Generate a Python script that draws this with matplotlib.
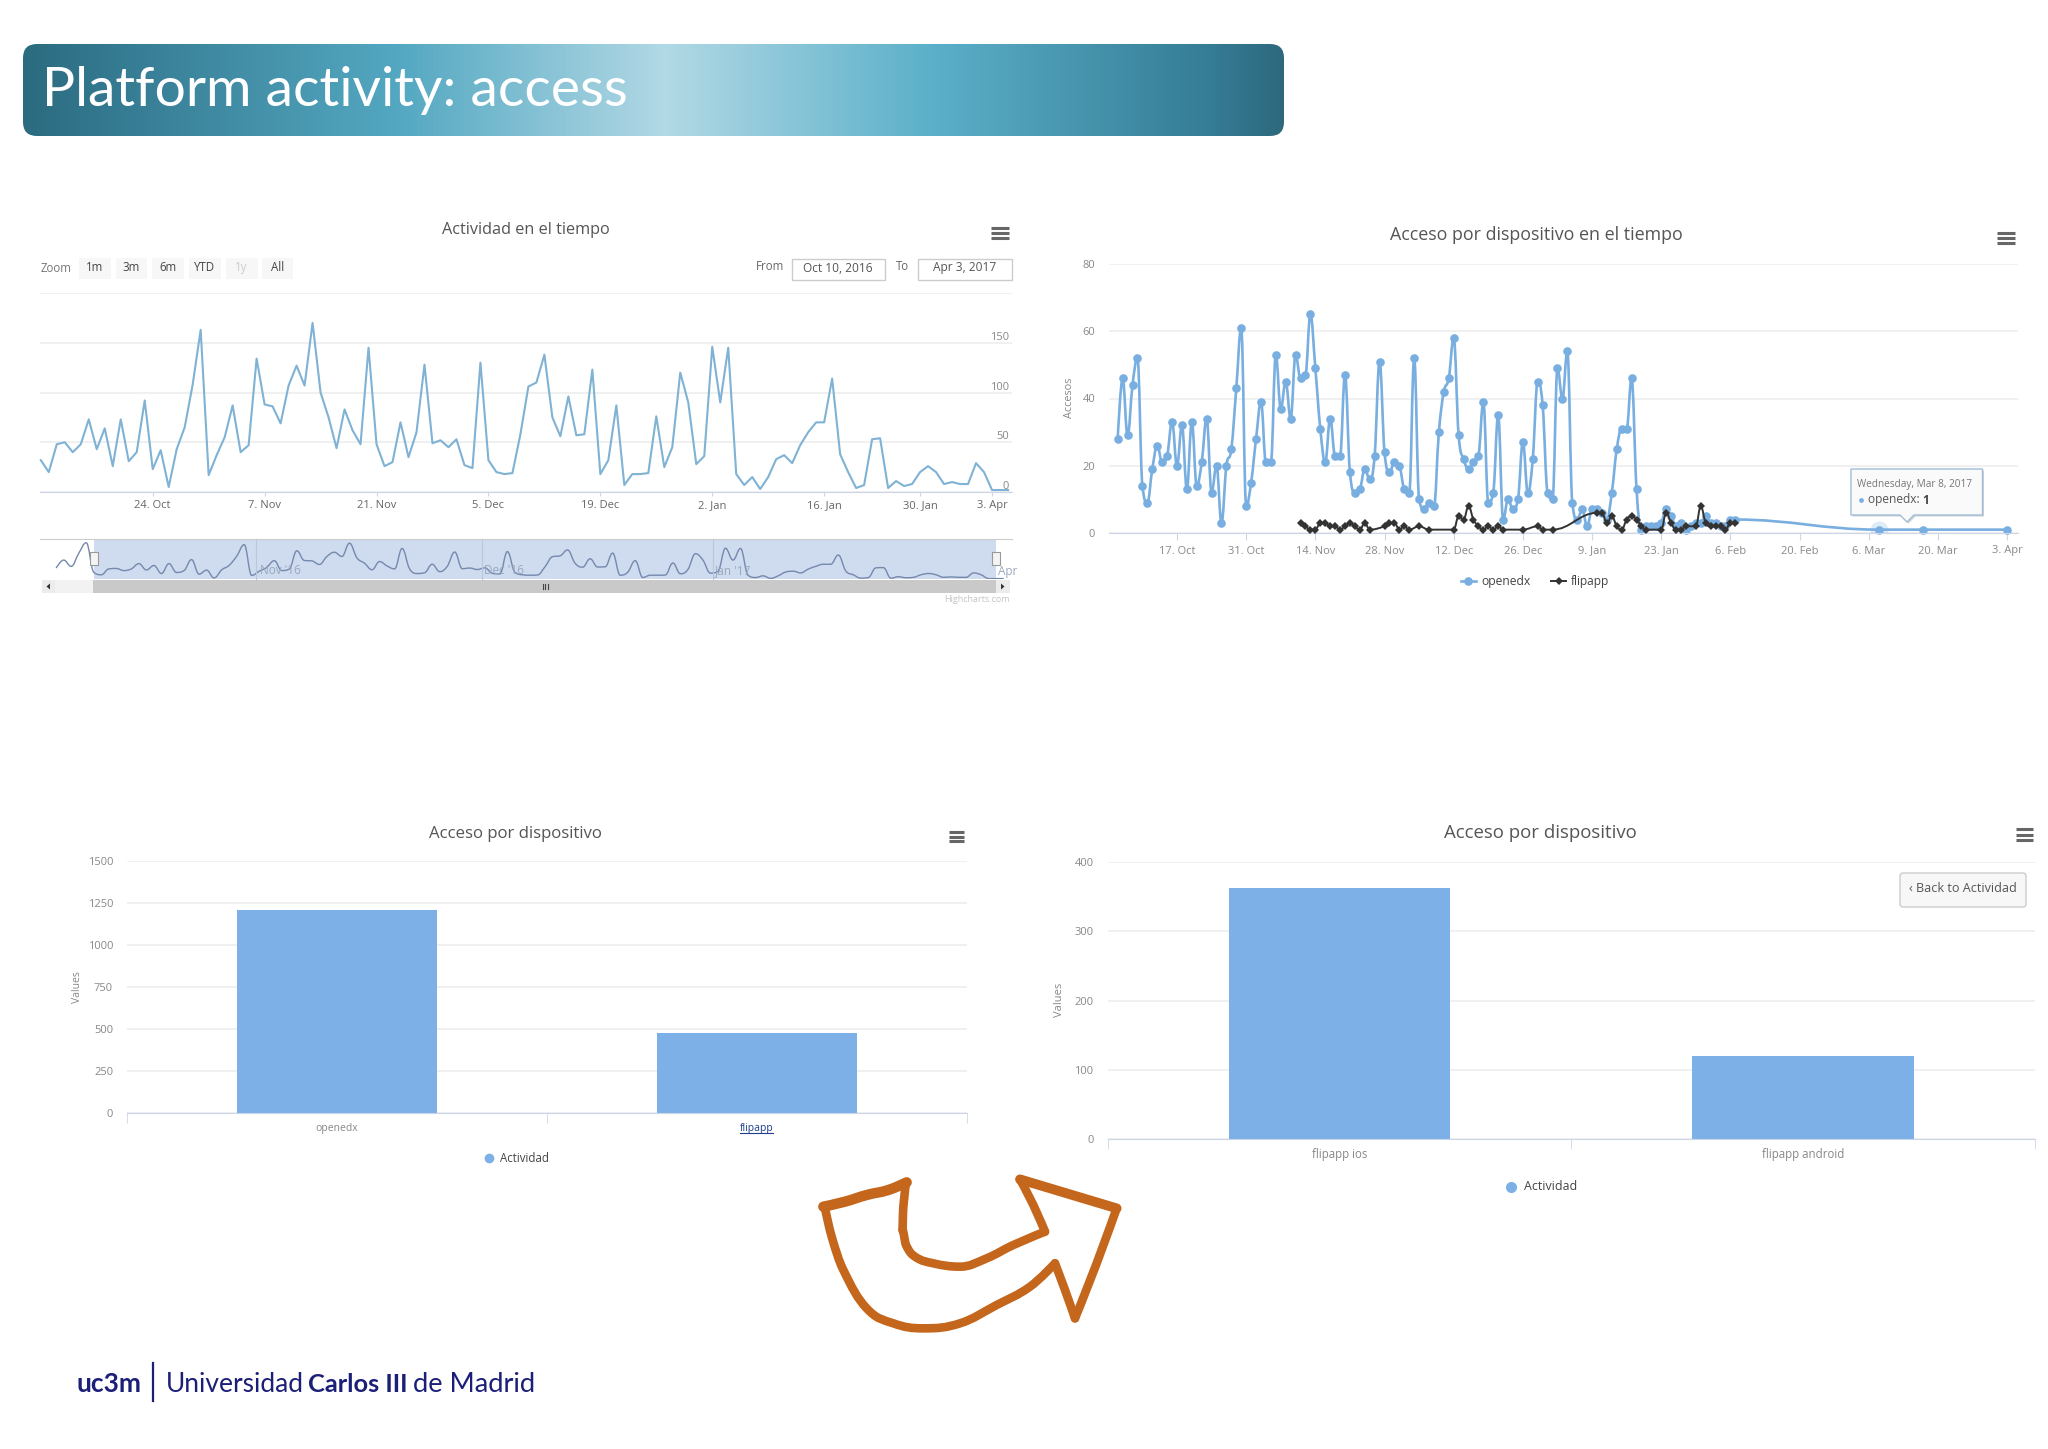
import matplotlib
matplotlib.use("Agg")
import numpy as np
import matplotlib.pyplot as plt
from matplotlib.path import Path
from matplotlib.patches import PathPatch, FancyBboxPatch, Rectangle, Polygon

plt.rcParams["font.family"] = ["Open Sans", "DejaVu Sans"]

W, H = 2048, 1449

# top left chart, one value per day, ordinal axis
activity = [32, 20, 48, 50, 40, 48, 73, 43, 64, 26, 73, 31, 40, 92, 23, 42, 5, 43, 65, 108,
            163, 17, 37, 55, 87, 40, 47, 134, 88, 86, 69, 107, 127, 107, 170, 100, 75, 44, 83, 62,
            48, 145, 48, 26, 30, 70, 35, 60, 128, 49, 52, 45, 53, 27, 24, 130, 32, 20, 18, 19,
            58, 106, 110, 138, 75, 56, 96, 57, 58, 123, 18, 32, 87, 7, 18, 18, 19, 76, 25, 45,
            120, 90, 28, 36, 146, 90, 145, 18, 7, 15, 3, 15, 33, 37, 29, 47, 60, 70, 70, 114,
            38, 20, 4, 7, 53, 54, 4, 11, 6, 8, 20, 26, 20, 8, 10, 8, 8, 29, 20, 2, 2, 2]
activity_ticks = [14, 28, 42, 56, 70, 84, 98, 110, 119]
activity_labels = ["24. Oct", "7. Nov", "21. Nov", "5. Dec", "19. Dec", "2. Jan", "16. Jan", "30. Jan", "3. Apr"]
activity_y = [0, 50, 100, 150, 200]
nav_head = [52, 90, 60, 122, 172]

# top right chart, day number counted from the first point
openedx_days = list(range(126)) + [154, 163, 180]
openedx = [28, 46, 29, 44, 52, 14, 9, 19, 26, 21, 23, 33, 20, 32, 13, 33, 14, 21, 34, 12,
           20, 3, 20, 25, 43, 61, 8, 15, 28, 39, 21, 21, 53, 37, 45, 34, 53, 46, 47, 65,
           49, 31, 21, 34, 23, 23, 47, 18, 12, 13, 19, 16, 23, 51, 24, 18, 21, 20, 13, 12,
           52, 10, 7, 9, 8, 30, 42, 46, 58, 29, 22, 19, 21, 23, 39, 9, 12, 35, 4, 10,
           7, 10, 27, 12, 22, 45, 38, 12, 10, 49, 40, 54, 9, 4, 7, 2, 7, 7, 6, 4,
           12, 25, 31, 31, 46, 13, 1, 2, 2, 2, 3, 7, 5, 2, 3, 1, 2, 3, 3, 5,
           3, 3, 2, 2, 4, 4, 1, 1, 1]
flipapp_days = [37, 38, 39, 40, 41, 42, 43, 44, 45, 46, 47, 48, 49, 50, 51, 54, 55, 56, 57, 58,
                59, 61, 63, 68, 69, 70, 71, 72, 73, 74, 75, 76, 77, 78, 82, 85, 86, 88, 97, 98,
                99, 100, 101, 102, 103, 104, 105, 106, 107, 110, 111, 112, 113, 114, 115, 117, 118, 119, 120, 121,
                122, 123, 124, 125]
flipapp = [3, 2, 1, 1, 3, 3, 2, 2, 1, 2, 3, 2, 1, 3, 1, 2, 3, 3, 1, 2,
           1, 2, 1, 1, 5, 4, 8, 4, 2, 1, 2, 1, 2, 1, 1, 2, 1, 1, 6, 6,
           3, 5, 2, 1, 4, 5, 4, 2, 1, 1, 6, 3, 1, 1, 2, 2, 8, 3, 2, 2,
           2, 1, 3, 3]
device_ticks = [12, 26, 40, 54, 68, 82, 96, 110, 124, 138, 152, 166, 180]
device_labels = ["17. Oct", "31. Oct", "14. Nov", "28. Nov", "12. Dec", "26. Dec", "9. Jan", "23. Jan",
                 "6. Feb", "20. Feb", "6. Mar", "20. Mar", "3. Apr"]
device_y = [0, 20, 40, 60, 80]

# bottom charts
dev_names = ["openedx", "flipapp"]
dev_values = [1209, 480]
dev_y = [0, 250, 500, 750, 1000, 1250, 1500]
app_names = ["flipapp ios", "flipapp android"]
app_values = [363, 119]
app_y = [0, 100, 200, 300, 400]

GRID = "#ececec"
AXIS = "#ccd6eb"
TXT = "#666666"
TITLE = "#555555"
BLUE = "#7cb0e6"
LINE = "#7fb2d4"


def axes_px(x0, x1, y0, y1, **kw):
    # pixel box to figure fraction, y counted from the top
    return fig.add_axes([x0 / W, 1 - y1 / H, (x1 - x0) / W, (y1 - y0) / H], **kw)


def spline_path(x, y):
    # same bezier handles as a highcharts spline
    x = np.asarray(x, float)
    y = np.asarray(y, float)
    verts = [(x[0], y[0])]
    codes = [Path.MOVETO]
    handles = []
    for i in range(len(x)):
        if i == 0 or i == len(x) - 1:
            handles.append((x[i], y[i], x[i], y[i]))
            continue
        lx = (1.5 * x[i] + x[i - 1]) / 2.5
        ly = (1.5 * y[i] + y[i - 1]) / 2.5
        rx = (1.5 * x[i] + x[i + 1]) / 2.5
        ry = (1.5 * y[i] + y[i + 1]) / 2.5
        c = (ry - ly) * (rx - x[i]) / (rx - lx) + y[i] - ry
        ly += c
        ry += c
        if ly > y[i - 1] and ly > y[i]:
            ly = max(y[i - 1], y[i])
            ry = 2 * y[i] - ly
        elif ly < y[i - 1] and ly < y[i]:
            ly = min(y[i - 1], y[i])
            ry = 2 * y[i] - ly
        if ry > y[i + 1] and ry > y[i]:
            ry = max(y[i + 1], y[i])
            ly = 2 * y[i] - ry
        elif ry < y[i + 1] and ry < y[i]:
            ry = min(y[i + 1], y[i])
            ly = 2 * y[i] - ry
        handles.append((lx, ly, rx, ry))
    for i in range(1, len(x)):
        verts += [(handles[i - 1][2], handles[i - 1][3]), (handles[i][0], handles[i][1]), (x[i], y[i])]
        codes += [Path.CURVE4] * 3
    return Path(verts, codes)


def clean(ax):
    for s in ax.spines.values():
        s.set_visible(False)
    ax.patch.set_alpha(0)
    ax.set_axisbelow(True)


fig = plt.figure(figsize=(W / 100, H / 100), dpi=100, facecolor="white")

# ---- activity chart
ax1 = axes_px(40, 1012, 293, 492)
clean(ax1)
ax1.set_xlim(-0.1, 121.5)
ax1.set_ylim(0, 200)
ax1.plot(range(len(activity)), activity, color=LINE, lw=1.5, clip_on=False)
ax1.set_yticks(activity_y)
ax1.set_yticklabels(["0", "50", "100", "150", ""], fontsize=8, color="#888888", ha="right", va="bottom")
ax1.yaxis.tick_right()
ax1.tick_params(axis="y", length=0, pad=-2)
ax1.grid(axis="y", color=GRID, lw=1.1)
ax1.set_xticks(activity_ticks)
ax1.set_xticklabels(activity_labels, fontsize=8, color=TXT)
ax1.tick_params(axis="x", length=3, color=AXIS, pad=3)
ax1.spines["bottom"].set_visible(True)
ax1.spines["bottom"].set_color(AXIS)

# navigator under it
nav = axes_px(40, 1012, 539, 579)
clean(nav)
nav_x = list(range(-len(nav_head), len(activity)))
nav_v = nav_head + activity
nav.set_xlim(-7.15, 122.1)
nav.set_ylim(0, 190)
nav.axvspan(0, 120, color="#cfdbee", lw=0, zorder=1)
nav.add_patch(PathPatch(spline_path(nav_x, nav_v), fc="none", ec="#7489ad", lw=1, zorder=3))
nav.set_xticks([])
nav.set_yticks([])
nav.spines["top"].set_visible(True)
nav.spines["top"].set_color("#cccccc")

# ---- device chart
ax2 = axes_px(1109, 2018, 264, 533)
clean(ax2)
ax2.set_xlim(-1.76, 182.2)
ax2.set_ylim(0, 80)
ax2.plot([154], [1], "o", ms=13, color=BLUE, alpha=0.25, mew=0)
ax2.add_patch(PathPatch(spline_path(openedx_days, openedx), fc="none", ec="#78aee0", lw=1.9, clip_on=False))
ax2.plot(openedx_days, openedx, "o", color="#78aee0", ms=6.2, mew=0, clip_on=False)
ax2.add_patch(PathPatch(spline_path(flipapp_days, flipapp), fc="none", ec="#333333", lw=1.4, clip_on=False, zorder=4))
ax2.plot(flipapp_days, flipapp, "D", color="#333333", ms=4, mew=0, clip_on=False, zorder=4)
ax2.set_yticks(device_y)
ax2.set_yticklabels(device_y, fontsize=8, color="#888888")
ax2.tick_params(axis="y", length=0, pad=10)
ax2.grid(axis="y", color=GRID, lw=1.1)
ax2.set_xticks(device_ticks)
ax2.set_xticklabels(device_labels, fontsize=8, color="#888888")
ax2.tick_params(axis="x", length=5, color=AXIS, pad=4)
ax2.spines["bottom"].set_visible(True)
ax2.spines["bottom"].set_color(AXIS)

# ---- bottom bar charts
for box, names, values, yt, lab_size, link in [
    ((127, 967, 861, 1113.3), dev_names, dev_values, dev_y, 7.5, True),
    ((1107.5, 2035, 862.3, 1138.7), app_names, app_values, app_y, 8.3, False),
]:
    ax = axes_px(*box)
    clean(ax)
    ax.bar(range(len(values)), values, width=0.478, color=BLUE)
    ax.set_xlim(-0.5, 1.5)
    ax.set_ylim(0, yt[-1])
    ax.set_yticks(yt)
    ax.set_yticklabels(yt, fontsize=8, color="#888888")
    ax.tick_params(axis="y", length=0, pad=10)
    ax.grid(axis="y", color=GRID, lw=1.1)
    ax.set_xticks(range(len(names)))
    ax.set_xticklabels(names, fontsize=lab_size, color="#888888")
    ax.tick_params(axis="x", which="major", length=0, pad=7)
    ax.set_xticks([-0.5, 0.5, 1.5], minor=True)
    ax.tick_params(axis="x", which="minor", length=7, color=AXIS)
    ax.spines["bottom"].set_visible(True)
    ax.spines["bottom"].set_color(AXIS)
    if link:
        ax.get_xticklabels()[1].set_color("#1f3f8f")

# ---- everything else, in reference pixels
ov = fig.add_axes([0, 0, 1, 1], zorder=10)
ov.patch.set_alpha(0)
ov.axis("off")

# header band
stops = [0.0, 0.06, 0.3, 0.51, 0.72, 0.94, 1.0]
cols = [(0.17, 0.42, 0.50), (0.20, 0.47, 0.56), (0.33, 0.66, 0.76), (0.70, 0.85, 0.90),
        (0.36, 0.69, 0.79), (0.21, 0.49, 0.59), (0.18, 0.41, 0.49)]
t = np.linspace(0, 1, 400)
grad = np.stack([np.interp(t, stops, [c[k] for c in cols]) for k in range(3)], axis=1)[None, :, :]
band = FancyBboxPatch((23 + 14, 44 + 14), 1261 - 28, 92 - 28, boxstyle="round,pad=14,rounding_size=14", lw=0, fc="none")
ov.add_patch(band)
im = ov.imshow(grad, extent=(23, 1284, 136, 44), aspect="auto", zorder=1)
im.set_clip_path(band)
ov.set_xlim(0, W)
ov.set_ylim(H, 0)
ov.text(42, 106, "Platform activity: access", color="white", fontsize=39.8, family="Lato", va="baseline", zorder=2)


def label(x, y, s, size=7.5, color=TXT, ha="left", **kw):
    ov.text(x, y, s, fontsize=size, color=color, ha=ha, va="center", **kw)


def burger(x0, x1, y0, y1):
    for yy in np.linspace(y0, y1, 3):
        ov.plot([x0, x1], [yy, yy], color="#666666", lw=2.2, solid_capstyle="butt")


label(526, 229.5, "Actividad en el tiempo", 11.7, TITLE, "center")
label(1536, 235.5, "Acceso por dispositivo en el tiempo", 12.9, TITLE, "center")
label(515, 834.5, "Acceso por dispositivo", 12.1, TITLE, "center")
label(1540, 832.5, "Acceso por dispositivo", 13.4, TITLE, "center")
burger(991, 1009, 228, 238)
burger(1997, 2015, 233, 243)
burger(949, 964, 832, 841)
burger(2016, 2033, 829, 840)

# range selector
label(41, 268, "Zoom", 8.3, "#777777")
for x0, x1, s, c in [(78.5, 111, "1m", "#444444"), (115.6, 147, "3m", "#444444"), (152, 184, "6m", "#444444"),
                     (189, 221, "YTD", "#444444"), (225.6, 257.5, "1y", "#cccccc"), (262, 293, "All", "#444444")]:
    ov.add_patch(Rectangle((x0, 258), x1 - x0, 21, fc="#f7f7f7", ec="none"))
    label((x0 + x1) / 2, 267.5, s, 8.3, c, "center")
label(770, 267, "From", 8.3, "#666666", "center")
label(903, 267, "To", 8.3, "#666666", "center")
for x0, x1, s in [(791.6, 885, "Oct 10, 2016"), (918, 1012, "Apr 3, 2017")]:
    ov.add_patch(Rectangle((x0, 258.5), x1 - x0, 21, fc="white", ec="#cccccc", lw=1))
    label((x0 + x1) / 2, 268, s, 8.6, "#555555", "center")

# navigator furniture
for x in [256, 482, 713]:
    ov.plot([x, x], [539, 579], color="#b9c6dc", lw=0.8)
for x, s in [(260, "Nov '16"), (484, "Dec '16"), (715, "Jan '17"), (998, "Apr")]:
    label(x, 571, s, 8.5, "#9aa8c0")
ov.add_patch(Rectangle((41.5, 580), 51, 13, fc="#f2f2f2", ec="none"))
ov.add_patch(Rectangle((92.5, 580), 903.5, 13, fc="#c9c9c9", ec="none"))
ov.add_patch(Rectangle((41.5, 580), 13, 13, fc="#ececec", ec="none"))
ov.add_patch(Rectangle((996, 580), 14, 13, fc="#ececec", ec="none"))
ov.add_patch(Polygon([(50, 583.5), (50, 589.5), (46.5, 586.5)], fc="#333333"))
ov.add_patch(Polygon([(1001, 583.5), (1001, 589.5), (1004.5, 586.5)], fc="#333333"))
for x in [542.5, 545, 547.5]:
    ov.plot([x, x], [584, 589], color="#444444", lw=0.8)
for x0 in [89.5, 992]:
    ov.add_patch(Rectangle((x0, 552), 8, 13, fc="#f4f4f4", ec="#999999", lw=0.8))
label(1010, 600, "Highcharts.com", 6.5, "#c4c4c4", "right")

# legends and axis titles
ov.plot([1461, 1476], [581, 581], color="#78aee0", lw=1.9)
ov.plot([1468], [581], "o", color="#78aee0", ms=6.2, mew=0)
label(1481, 581, "openedx", 8.7, "#444444")
ov.plot([1551, 1566], [581, 581], color="#333333", lw=1.4)
ov.plot([1558.5], [581], "D", color="#333333", ms=4, mew=0)
label(1571, 581, "flipapp", 8.6, "#444444")
label(1070, 398, "Accesos", 7.8, "#888888", "center", rotation=90)
label(77, 987, "Values", 7.5, "#888888", "center", rotation=90)
label(1060, 1000, "Values", 8, "#888888", "center", rotation=90)
ov.plot([489], [1158], "o", color=BLUE, ms=7, mew=0)
label(500, 1158, "Actividad", 8.3, "#444444")
ov.plot([1510.7], [1187], "o", color=BLUE, ms=8, mew=0)
label(1523.6, 1187, "Actividad", 8.9, "#444444")
ov.plot([740, 773], [1133, 1133], color="#1f3f8f", lw=0.8)

# drilldown button
ov.add_patch(FancyBboxPatch((1900, 873), 126, 34, boxstyle="round,pad=0,rounding_size=3", fc="#f7f7f7", ec="#cccccc", lw=1))
label(1963, 889, "‹ Back to Actividad", 9.1, "#555555", "center")

# tooltip
tip = [(1851, 469), (1982.5, 469), (1982.5, 515), (1914, 515), (1907, 522), (1900, 515), (1851, 515)]
ov.add_patch(Polygon([(a + 1.5, b + 1.5) for a, b in tip], fc="#999999", ec="none", alpha=0.45))
ov.add_patch(Polygon(tip, fc="#fafafa", ec="#9fbdd8", lw=1))
label(1857, 485, "Wednesday, Mar 8, 2017", 7.2, "#777777")
ov.plot([1861], [500], "o", color=BLUE, ms=3.5, mew=0)
ov.text(1868, 500, "openedx: ", fontsize=8.6, color="#555555", va="center")
ov.text(1922, 500, "1", fontsize=8.6, color="#444444", va="center", fontweight="bold")


# hand drawn arrow, each stroke smoothed on its own
def stroke(xs, ys, lw=6.2):
    pts_x = [800 + a / 3 for a in xs]
    pts_y = [1150 + b / 3 for b in ys]
    ov.add_patch(PathPatch(spline_path(pts_x, pts_y), fc="none", ec="#c4661c", lw=lw,
                           capstyle="round", joinstyle="round"))


stroke([70, 135, 200, 265, 320], [170, 155, 135, 120, 97], 7.5)
stroke([318, 310, 307, 318, 345, 400, 480, 560, 640, 735], [100, 170, 240, 285, 320, 340, 350, 325, 285, 245])
stroke([735, 700, 660], [245, 165, 88])
stroke([660, 800, 950], [88, 130, 175], 7)
stroke([950, 890, 825], [175, 340, 505])
stroke([825, 795, 765], [505, 420, 340])
stroke([765, 690, 590, 480, 370, 280, 200, 130, 95, 75], [340, 410, 465, 520, 535, 520, 475, 360, 260, 175])

# logo
NAVY = "#1c1f78"
ov.text(76, 1384, "uc3m", fontsize=19, color=NAVY, family="Lato", fontweight="bold", va="center")
ov.plot([153, 153], [1363, 1401], color=NAVY, lw=1.6)
ov.text(166, 1384, "Universidad", fontsize=19, color=NAVY, family="Lato", va="center")
ov.text(308, 1384, "Carlos III", fontsize=18.3, color=NAVY, family="Lato", fontweight="bold", va="center")
ov.text(413, 1384, "de Madrid", fontsize=19.6, color=NAVY, family="Lato", va="center")

fig.savefig("out.png", dpi=100)
